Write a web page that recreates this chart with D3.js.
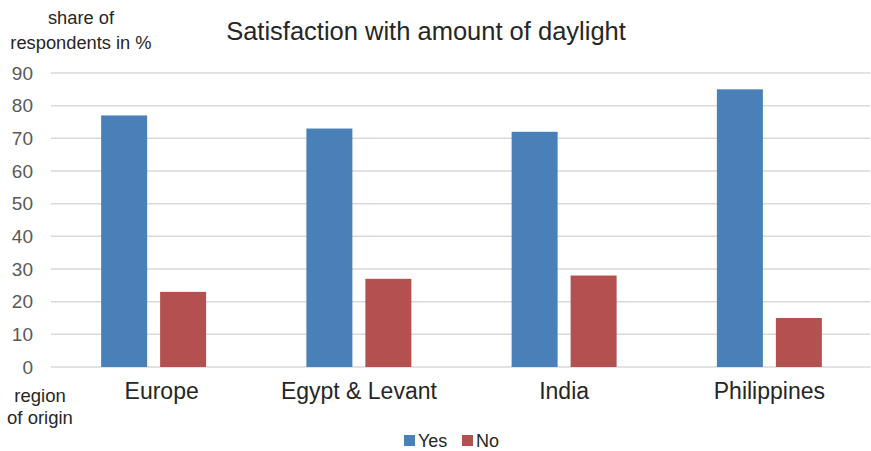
<!DOCTYPE html>
<html><head><meta charset="utf-8">
<script src="https://cdn.jsdelivr.net/npm/d3@7"></script>
<style>body{margin:0;background:#fff;} text{font-family:"Liberation Sans",Arial,sans-serif;}</style>
</head><body><svg id="c" width="871" height="451"></svg>
<script>
const categories = ["Europe", "Egypt & Levant", "India", "Philippines"];
const seriesNames = ["Yes", "No"];
const yesValues = [77, 73, 72, 85];
const noValues = [23, 27, 28, 15];
const yTicks = [0, 10, 20, 30, 40, 50, 60, 70, 80, 90];
const colors = ["#4a80b8", "#b35151"];

const svg = d3.select("#c");
const x = d3.scaleBand().domain(categories).range([51, 872]);
const xs = d3.scaleBand().domain(seriesNames).range([0, 105]).paddingInner(0.22);
const y = d3.scaleLinear().domain([0, 90]).range([367, 73]);

const grid = svg.append("g").attr("class", "grid");
grid.selectAll("line").data(yTicks).join("line")
  .attr("x1", 51).attr("x2", 870)
  .attr("y1", d => y(d)).attr("y2", d => y(d))
  .attr("stroke", "#d9d9d9").attr("stroke-width", 1.5);

const yAxis = d3.axisLeft(y).tickValues(yTicks).tickSize(0).tickPadding(0);
const ya = svg.append("g").attr("transform", "translate(33,0)").call(yAxis);
ya.select(".domain").remove();
ya.selectAll("text").attr("font-size", 19).attr("fill", "#595959")
  .attr("font-family", "Liberation Sans, Arial, sans-serif");

const data = categories.map((c, i) => ({c, vals: [yesValues[i], noValues[i]]}));
const g = svg.append("g");
data.forEach(d => {
  const c0 = x(d.c) + x.bandwidth() / 2 - 52.5;
  seriesNames.forEach((s, j) => {
    g.append("rect")
      .attr("x", c0 + xs(s)).attr("width", xs.bandwidth())
      .attr("y", y(d.vals[j])).attr("height", y(0) - y(d.vals[j]))
      .attr("fill", colors[j]);
  });
});

const xAxis = d3.axisBottom(x).tickSize(0).tickPadding(0);
const xa = svg.append("g").attr("transform", "translate(0,383)").call(xAxis);
xa.select(".domain").remove();
xa.selectAll("text").attr("font-size", 23).attr("fill", "#262626")
  .attr("font-family", "Liberation Sans, Arial, sans-serif")
  .attr("dx", (d, i) => i === 0 ? 8 : 0);

svg.append("text").attr("x", 426).attr("y", 40).attr("text-anchor", "middle")
  .attr("font-size", 25.5).attr("fill", "#262626").text("Satisfaction with amount of daylight");

const yl = svg.append("text").attr("text-anchor", "middle").attr("font-size", 18.3).attr("fill", "#262626");
yl.append("tspan").attr("x", 81).attr("y", 24).text("share of");
yl.append("tspan").attr("x", 81).attr("y", 49).text("respondents in %");

const xl = svg.append("text").attr("text-anchor", "middle").attr("font-size", 18.5).attr("fill", "#262626");
xl.append("tspan").attr("x", 40).attr("y", 402).text("region");
xl.append("tspan").attr("x", 40).attr("y", 424).text("of origin");

const leg = svg.append("g");
const legX = [404, 462];
seriesNames.forEach((s, j) => {
  leg.append("rect").attr("x", legX[j]).attr("y", 435).attr("width", 11).attr("height", 11).attr("fill", colors[j]);
  leg.append("text").attr("x", legX[j] + 14).attr("y", 447).attr("font-size", 18).attr("fill", "#262626").text(s);
});
</script></body></html>
